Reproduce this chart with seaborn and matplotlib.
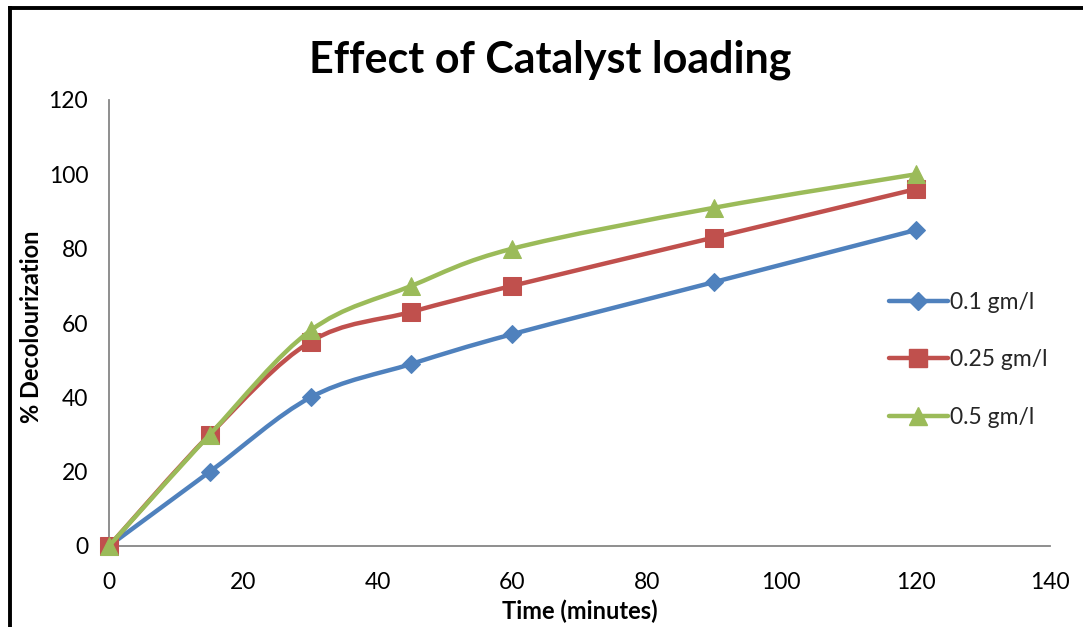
import numpy as np
import pandas as pd
import matplotlib
matplotlib.use("Agg")
import matplotlib.pyplot as plt
import seaborn as sns
from matplotlib.path import Path
from matplotlib.patches import PathPatch
from matplotlib.lines import Line2D

# ---- data ----
time_min = [0, 15, 30, 45, 60, 90, 120]
series_names = ["0.1 gm/l", "0.25 gm/l", "0.5 gm/l"]
dec_01 = [0, 20, 40, 49, 57, 71, 85]
dec_025 = [0, 30, 55, 63, 70, 83, 96]
dec_05 = [0, 30, 58, 70, 80, 91, 100]
x_ticks = [0, 20, 40, 60, 80, 100, 120, 140]
y_ticks = [0, 20, 40, 60, 80, 100, 120]
title = "Effect of Catalyst loading"
x_label = "Time (minutes)"
y_label = "% Decolourization"

colors = ["#4F81BD", "#C0504D", "#9BBB59"]
markers = ["D", "s", "^"]
msizes = [9.0, 13.5, 13.5]
LW = 3.2

df = pd.concat([
    pd.DataFrame({"time": time_min, "value": v, "series": n})
    for n, v in zip(series_names, [dec_01, dec_025, dec_05])
], ignore_index=True)

sns.set_style("white")
FONT = ["Lato", "DejaVu Sans"]
plt.rcParams["font.family"] = FONT

fig = plt.figure(figsize=(10.83, 6.27), dpi=100)
ax = fig.add_axes([109 / 1083, 1 - 546 / 627, (1050 - 109) / 1083, (546 - 100) / 627])


def smooth_path(xs, ys):
    pts = np.column_stack([xs, ys]).astype(float)
    n = len(pts)
    verts = [pts[0]]
    codes = [Path.MOVETO]
    for i in range(n - 1):
        p0 = pts[i - 1] if i > 0 else pts[i]
        p1 = pts[i]
        p2 = pts[i + 1]
        p3 = pts[i + 2] if i + 2 < n else pts[i + 1]
        c1 = p1 + (p2 - p0) / 6.0
        c2 = p2 - (p3 - p1) / 6.0
        verts += [c1, c2, p2]
        codes += [Path.CURVE4] * 3
    return Path(verts, codes)


handles = []
for k, name in enumerate(series_names):
    sub = df[df["series"] == name]
    patch = PathPatch(smooth_path(sub["time"].values, sub["value"].values),
                      fill=False, edgecolor=colors[k], lw=LW,
                      capstyle="round", joinstyle="round", zorder=2 + 2 * k,
                      clip_on=False)
    ax.add_patch(patch)
    sns.lineplot(data=sub, x="time", y="value", ax=ax, linestyle="",
                 marker=markers[k], markersize=msizes[k], color=colors[k],
                 markeredgecolor=colors[k], zorder=3 + 2 * k, legend=False,
                 clip_on=False)
    handles.append(Line2D([0], [0], color=colors[k], lw=LW, marker=markers[k],
                          markersize=msizes[k], markeredgecolor=colors[k],
                          solid_capstyle="round"))

ax.set_xlim(0, 140)
ax.set_ylim(0, 120)
ax.set_xticks(x_ticks)
ax.set_yticks(y_ticks)
ax.set_xticklabels([str(t) for t in x_ticks])
ax.set_yticklabels([str(t) for t in y_ticks])
ax.tick_params(axis="both", direction="out", length=6, width=1.3, color="#868686",
               labelsize=16.5, labelcolor="black")
ax.tick_params(axis="x", pad=13)
ax.tick_params(axis="y", pad=9)
for s in ["top", "right"]:
    ax.spines[s].set_visible(False)
for s in ["left", "bottom"]:
    ax.spines[s].set_color("#868686")
    ax.spines[s].set_linewidth(1.3)
    ax.spines[s].set_zorder(1)
ax.set_xlabel("")
ax.set_ylabel("")
ax.grid(False)

fig.text(550 / 1083, 1 - 60 / 627, title, ha="center", va="center",
         fontsize=31, fontweight="bold", family=FONT, color="black")
fig.text(580 / 1083, 1 - 611 / 627, x_label, ha="center", va="center",
         fontsize=17, fontweight="bold", family=FONT, color="black")
fig.text(32 / 1083, 1 - 327 / 627, y_label, ha="center", va="center",
         rotation=90, fontsize=17, fontweight="bold", family=FONT, color="black")

leg = fig.legend(handles, series_names, loc="upper left",
                 bbox_to_anchor=(880 / 1083, 1 - 283 / 627), frameon=False,
                 fontsize=16.5, handlelength=2.55, handletextpad=0.12,
                 labelspacing=1.58, borderaxespad=0)

# outer frame (left and top edges visible)
fig.add_artist(Line2D([9.5 / 1083, 9.5 / 1083], [0, 1 - 7.5 / 627],
                      transform=fig.transFigure, color="black", lw=2.8,
                      solid_capstyle="projecting"))
fig.add_artist(Line2D([9.5 / 1083, 1], [1 - 7.5 / 627, 1 - 7.5 / 627],
                      transform=fig.transFigure, color="black", lw=2.8,
                      solid_capstyle="projecting"))

fig.savefig("out.png", dpi=100, facecolor="white")
